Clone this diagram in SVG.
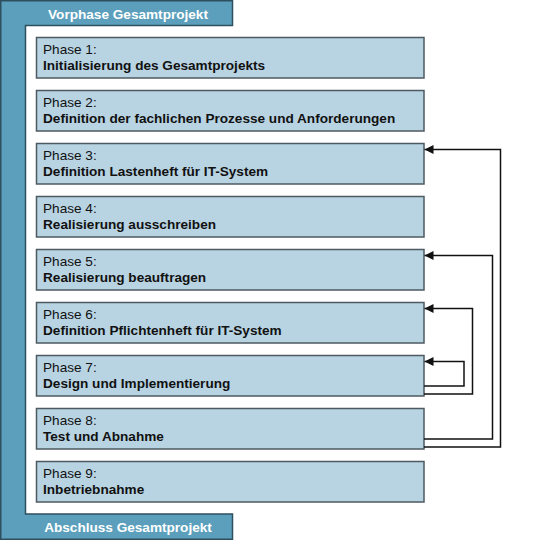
<svg xmlns="http://www.w3.org/2000/svg" width="540" height="540" viewBox="0 0 540 540">
<style>
.frame{fill:#5b9fbc;stroke:#2e4f5e;stroke-width:1.5}
.box{fill:#b8d3e2;stroke:#4e5a61;stroke-width:1.5}
.band{font-family:"Liberation Sans",Arial,sans-serif;font-size:13.6px;font-weight:bold;fill:#ffffff;text-anchor:middle}
.t1{font-family:"Liberation Sans",Arial,sans-serif;font-size:13.6px;fill:#111111}
.t2{font-family:"Liberation Sans",Arial,sans-serif;font-size:13.6px;font-weight:bold;fill:#111111}
.conn{fill:none;stroke:#111111;stroke-width:1.5}
</style>
<defs>
<marker id="arr" viewBox="0 0 10 10" refX="10" refY="5" markerWidth="9" markerHeight="9" markerUnits="userSpaceOnUse" orient="auto">
<path d="M0,0 L10,5 L0,10 Z" fill="#111111"/>
</marker>
</defs>
<rect width="540" height="540" fill="#ffffff"/>
<g id="frame">
<path class="frame" d="M0.75,0.75 H232.5 V25.5 H25.5 V514 H232.5 V539.25 H0.75 Z"/>
<text class="band" x="128" y="19">Vorphase Gesamtprojekt</text>
<text class="band" x="128" y="532">Abschluss Gesamtprojekt</text>
</g>
<g id="phase1"><rect class="box" x="36.5" y="37.5" width="387.5" height="40.5"/><text class="t1" x="43" y="54">Phase 1:</text><text class="t2" x="43" y="70">Initialisierung des Gesamtprojekts</text></g>
<g id="phase2"><rect class="box" x="36.5" y="90.5" width="387.5" height="40.5"/><text class="t1" x="43" y="107">Phase 2:</text><text class="t2" x="43" y="123">Definition der fachlichen Prozesse und Anforderungen</text></g>
<g id="phase3"><rect class="box" x="36.5" y="143.5" width="387.5" height="40.5"/><text class="t1" x="43" y="160">Phase 3:</text><text class="t2" x="43" y="176">Definition Lastenheft für IT-System</text></g>
<g id="phase4"><rect class="box" x="36.5" y="196.5" width="387.5" height="40.5"/><text class="t1" x="43" y="213">Phase 4:</text><text class="t2" x="43" y="229">Realisierung ausschreiben</text></g>
<g id="phase5"><rect class="box" x="36.5" y="249.5" width="387.5" height="40.5"/><text class="t1" x="43" y="266">Phase 5:</text><text class="t2" x="43" y="282">Realisierung beauftragen</text></g>
<g id="phase6"><rect class="box" x="36.5" y="302.5" width="387.5" height="40.5"/><text class="t1" x="43" y="319">Phase 6:</text><text class="t2" x="43" y="335">Definition Pflichtenheft für IT-System</text></g>
<g id="phase7"><rect class="box" x="36.5" y="355.5" width="387.5" height="40.5"/><text class="t1" x="43" y="372">Phase 7:</text><text class="t2" x="43" y="388">Design und Implementierung</text></g>
<g id="phase8"><rect class="box" x="36.5" y="408.5" width="387.5" height="40.5"/><text class="t1" x="43" y="425">Phase 8:</text><text class="t2" x="43" y="441">Test und Abnahme</text></g>
<g id="phase9"><rect class="box" x="36.5" y="461.5" width="387.5" height="40.5"/><text class="t1" x="43" y="478">Phase 9:</text><text class="t2" x="43" y="494">Inbetriebnahme</text></g>
<g id="connectors">
<path class="conn" marker-end="url(#arr)" d="M424,447 H500.5 V149.5 H424.5"/>
<path class="conn" marker-end="url(#arr)" d="M424,439 H492.5 V255.5 H424.5"/>
<path class="conn" marker-end="url(#arr)" d="M424,394 H472.5 V308.5 H424.5"/>
<path class="conn" marker-end="url(#arr)" d="M424,386 H464 V361.5 H424.5"/>
</g>
</svg>
